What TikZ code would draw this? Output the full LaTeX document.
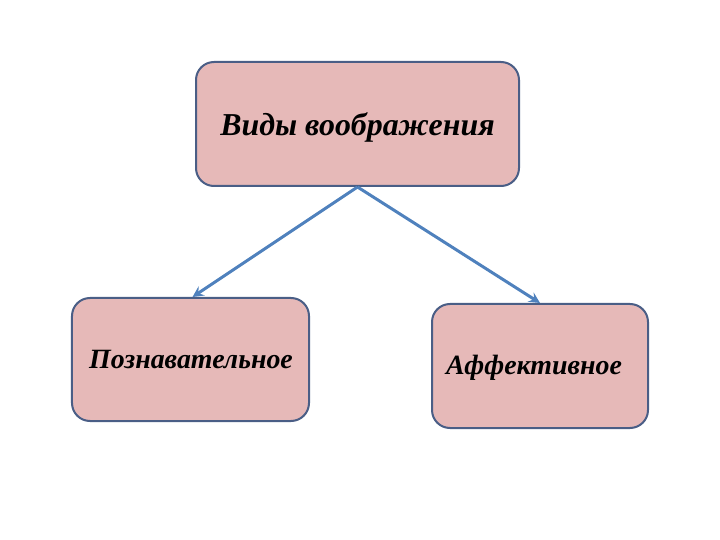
\documentclass[tikz,border=0pt]{standalone}
\usepackage{fontspec}
\setmainfont{Liberation Serif}
\usetikzlibrary{arrows.meta}
\definecolor{boxfill}{HTML}{E6B9B8}
\definecolor{boxdraw}{HTML}{4A5E86}
\definecolor{arrowc}{HTML}{4F81BD}
\begin{document}
\begin{tikzpicture}[x=1bp,y=-1bp,
  box/.style={draw=boxdraw,fill=boxfill,line width=2bp,rounded corners=18bp,
    inner sep=0pt},
  lbl/.style={font=\fontsize{28}{32}\selectfont\bfseries\itshape,inner sep=0pt},
  conn/.style={draw=arrowc,line width=3bp,-{Stealth[length=11bp,width=11bp,inset=4bp]}}]
\useasboundingbox (0,0) rectangle (720,540);
\node[box,minimum width=323bp,minimum height=124bp] (top) at (357.5,124) {};
\node[box,minimum width=237bp,minimum height=123bp] (left) at (190.5,359.5) {};
\node[box,minimum width=216bp,minimum height=124bp] (right) at (540,366) {};
\node[lbl,font=\fontsize{32}{36}\selectfont\bfseries\itshape] (ttop) at (357.5,127) {Виды воображения};
\node[lbl] (tleft) at (191,360) {Познавательное};
\node[lbl] (tright) at (534,368) {Аффективное};
\draw[conn] (top.south) -- ([xshift=2bp]left.north);
\draw[conn] (top.south) -- (right.north);
\end{tikzpicture}
\end{document}
